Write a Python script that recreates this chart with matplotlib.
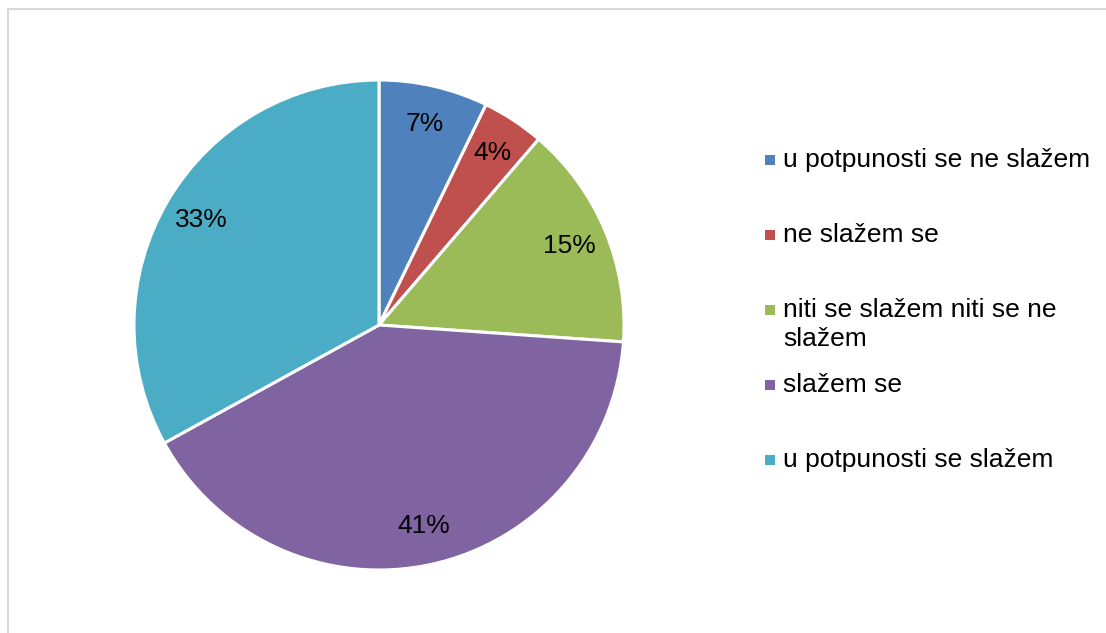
import matplotlib
matplotlib.use('Agg')
import matplotlib.pyplot as plt
from matplotlib.patches import Rectangle
from matplotlib.lines import Line2D

labels = ['u potpunosti se ne slažem', 'ne slažem se',
          'niti se slažem niti se ne\nslažem', 'slažem se',
          'u potpunosti se slažem']
values = [7.2, 4.1, 14.8, 40.9, 33.0]
colors = ['#4F81BD', '#C0504D', '#9BBB59', '#8064A2', '#4BACC6']

plt.rcParams['font.family'] = ['Liberation Sans', 'DejaVu Sans']

W, H = 1106, 633
fig = plt.figure(figsize=(W / 100, H / 100), dpi=100)

# pie area, centre (379, 325) px, radius 245 px
cx, cy, r = 379, 325, 245
ax = fig.add_axes([(cx - r) / W, (H - cy - r) / H, 2 * r / W, 2 * r / H])
wedges, texts, autotexts = ax.pie(
    values, colors=colors, startangle=90, counterclock=False,
    autopct=lambda p: '%.0f%%' % p, pctdistance=0.84,
    wedgeprops=dict(edgecolor='white', linewidth=2.2),
    textprops=dict(fontsize=19, color='black'))
ax.set_xlim(-1, 1)
ax.set_ylim(-1, 1)
ax.set_aspect('equal')
ax.axis('off')

# legend, drawn by hand so the wrapped entry overflows like the original
y0, step = 160, 75
for i, (lab, col) in enumerate(zip(labels, colors)):
    yc = y0 + i * step
    fig.add_artist(Rectangle((765 / W, 1 - (yc + 5) / H), 10 / W, 10 / H,
                             transform=fig.transFigure, facecolor=col,
                             edgecolor='none'))
    fig.text(783 / W, 1 - (yc - 12) / H, lab, fontsize=19, va='top',
             ha='left', color='black', linespacing=1.25)

# chart frame (only left and top edges visible)
fig.add_artist(Line2D([7.5 / W, 7.5 / W], [0, 1 - 9 / H], color='#D9D9D9',
                      linewidth=1.5, transform=fig.transFigure))
fig.add_artist(Line2D([7.5 / W, 1], [1 - 9 / H, 1 - 9 / H], color='#D9D9D9',
                      linewidth=1.5, transform=fig.transFigure))

fig.savefig('out.png', dpi=100, facecolor='white')
